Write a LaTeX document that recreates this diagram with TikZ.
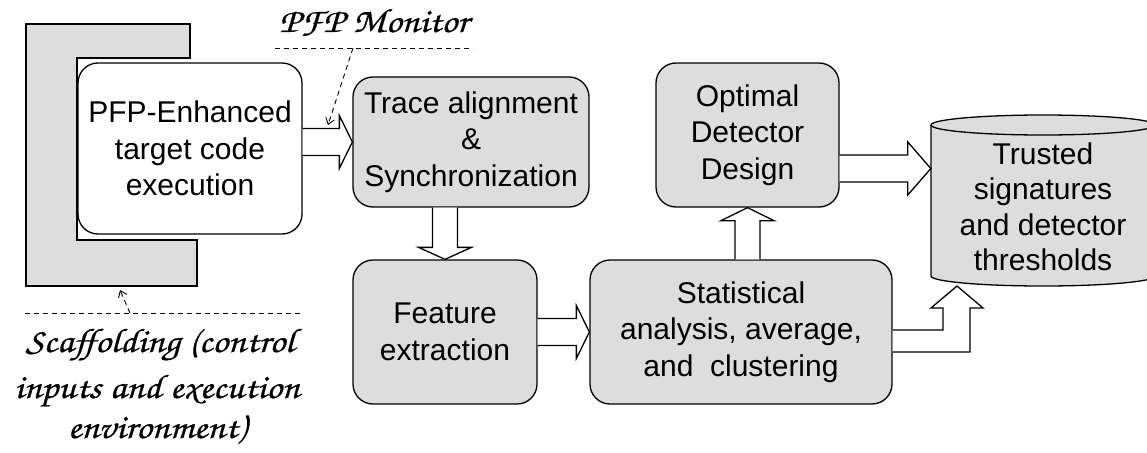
\documentclass[tikz,border=0pt]{standalone}
\usepackage{fontspec}
\setmainfont{Liberation Sans}
\newfontfamily\handfont[FakeStretch=1.15,FakeBold=0.6]{texgyrechorus-mediumitalic.otf}
\usetikzlibrary{calc,arrows.meta}
\definecolor{boxgray}{RGB}{221,221,221}
% horizontal block arrow: start, tip, head length
\newcommand\harrow[3]{%
  \draw[blk] ($(#1)+(0,13.5)$) -- ($(#2)+(-#3,13.5)$) -- ($(#2)+(-#3,26.5)$) -- (#2)
    -- ($(#2)+(-#3,-26.5)$) -- ($(#2)+(-#3,-13.5)$) -- ($(#1)+(0,-13.5)$);}
% vertical block arrow: start, tip, signed head length
\newcommand\varrow[3]{%
  \draw[blk] ($(#1)+(-12.5,0)$) -- ($(#2)+(-12.5,#3)$) -- ($(#2)+(-26.5,#3)$) -- (#2)
    -- ($(#2)+(26.5,#3)$) -- ($(#2)+(12.5,#3)$) -- ($(#1)+(12.5,0)$);}
\tikzset{
  box/.style={draw, line width=1.3pt, rounded corners=20pt, fill=boxgray, align=center,
    inner sep=0pt, font=\fontsize{30}{36.5}\selectfont},
  blk/.style={draw, line width=1.3pt, fill=white, line join=miter},
  note/.style={line width=0.9pt, dash pattern=on 5pt off 4pt},
  handtxt/.style={font=\handfont\fontsize{34}{43}\selectfont, inner sep=0pt},
  barb/.style={-{Straight Barb[length=6pt,width=9pt,line width=0.9pt]}}
}
\begin{document}
\begin{tikzpicture}[x=1pt,y=1pt]
\useasboundingbox (0,0) rectangle (1147,-452);

% scaffolding frame around the enhanced target
\draw[line width=1.3pt, fill=boxgray] (26,-24) -- (190,-24) -- (190,-58) -- (77,-58)
  -- (77,-240) -- (197,-240) -- (197,-286) -- (26,-286) -- cycle;

% process blocks
\node[box, fill=white, minimum width=224pt, minimum height=171pt] (pfp) at (190,-148.5)
  {PFP-Enhanced\\target code\\execution};
\node[box, minimum width=236pt, minimum height=130pt] (trace) at (471,-142)
  {Trace alignment\\\&\\Synchronization};
\node[box, minimum width=184pt, minimum height=144pt] (feat) at (445,-332)
  {Feature\\extraction};
\node[box, minimum width=302pt, minimum height=144pt] (stat) at (741,-332)
  {Statistical\\analysis, average,\\and\ \ clustering};
\node[box, minimum width=183pt, minimum height=144pt] (opt) at (747.5,-135)
  {Optimal\\Detector\\Design};

% database cylinder
\coordinate (dbc) at (1043,-207);
\coordinate (dbtop) at ($(dbc)+(0,82)$);
\coordinate (dbbot) at ($(dbc)+(0,-69)$);
\fill[boxgray] ($(dbtop)+(-112,0)$) -- ($(dbbot)+(-112,0)$)
  arc[start angle=180, end angle=360, x radius=112pt, y radius=10pt]
  -- ($(dbtop)+(112,0)$) -- cycle;
\draw[line width=1.3pt, fill=boxgray] (dbtop) ellipse[x radius=112pt, y radius=10pt];
\draw[line width=1.3pt] ($(dbtop)+(-112,0)$) -- ($(dbbot)+(-112,0)$)
  arc[start angle=180, end angle=360, x radius=112pt, y radius=10pt]
  -- ($(dbtop)+(112,0)$);
\node[align=center, inner sep=0pt, minimum width=224pt,
  font=\fontsize{30}{35.5}\selectfont] (db) at (dbc)
  {Trusted\\signatures\\and detector\\thresholds};

% block arrows between stages
\harrow{pfp.east |- trace.west}{trace.west}{13}
\varrow{feat.north |- trace.south}{feat.north}{12}
\harrow{feat.east}{stat.west}{13}
\varrow{opt.south |- stat.north}{opt.south}{-13}
\coordinate (o2d) at ($(opt.east)+(0,-33.5)$);
\coordinate (o2dtip) at (o2d -| db.west);
\harrow{o2d}{o2dtip}{23}
\coordinate (s2d) at ($(stat.east)+(0,-9)$);
\coordinate (s2dtip) at ($(dbbot)+(-86,-10)$);
\draw[blk] ($(s2d)+(0,11)$) -- ($(s2dtip)+(-14,-44)$) -- ($(s2dtip)+(-14,-22)$)
  -- ($(s2dtip)+(-26,-22)$) -- (s2dtip) -- ($(s2dtip)+(26,-22)$) -- ($(s2dtip)+(13,-22)$)
  -- ($(s2dtip)+(13,-66)$) -- ($(s2d)+(0,-11)$);

% monitor annotation
\coordinate (monA) at (275,-48);
\coordinate (monB) at (473,-48);
\coordinate (monS) at (353,-48);
\coordinate (monT) at (328,-125);
\draw[note] (monA) -- (monB);
\draw[note, barb] (monS) -- (monT);
\node[handtxt, anchor=base] (monlbl) at (374,-32) {PFP Monitor};

% scaffolding annotation
\coordinate (scA) at (25,-313);
\coordinate (scB) at (302,-313);
\coordinate (scS) at (130,-313);
\coordinate (scT) at (120,-290);
\draw[note] (scA) -- (scB);
\draw[note, barb] (scS) -- (scT);
\node[handtxt, anchor=base] (sc1) at (160,-352) {Scaffolding (control};
\node[handtxt, anchor=base] (sc2) at (157,-398) {inputs and execution};
\node[handtxt, anchor=base] (sc3) at (157,-438) {environment)};
\end{tikzpicture}
\end{document}
